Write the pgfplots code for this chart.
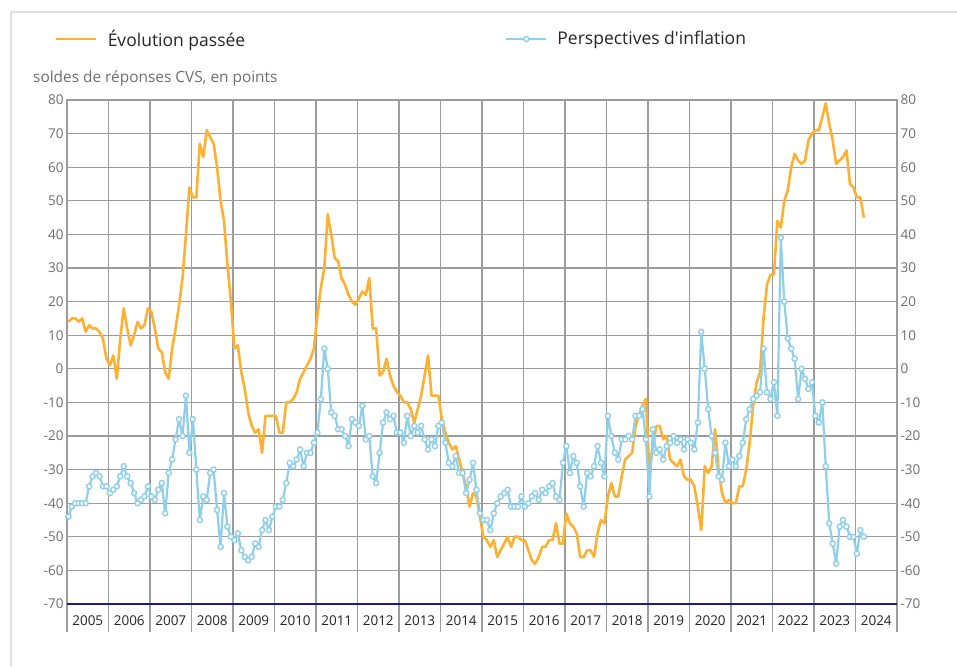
\documentclass[border=0pt]{standalone}
\usepackage{pgfplots}
\pgfplotsset{compat=1.18}
\usepackage{fontspec}
\setmainfont{Open Sans}
\newfontfamily\plainfont{Open Sans}
\definecolor{orangeL}{HTML}{FDB132}
\definecolor{blueL}{HTML}{8FCFEA}
\definecolor{gridG}{HTML}{9C9C9C}
\definecolor{navyL}{HTML}{1A1A80}
\definecolor{tickG}{HTML}{6E6E6E}
\begin{document}
\begin{tikzpicture}[x=1pt,y=1pt]
\useasboundingbox (0,0) rectangle (957,666);
\fill[white] (0,0) rectangle (957,666);
\draw[black!12, line width=2pt] (11,0) -- (11,654) -- (957,654);
\node[anchor=base west, font=\fontsize{15.4}{17}\selectfont, text=tickG, inner sep=0pt] at (33,583) {soldes de réponses CVS, en points};
\begin{axis}[
  at={(67pt,62pt)}, anchor=south west,
  width=830pt, height=504pt, scale only axis,
  xmin=2005, xmax=2025, ymin=-70, ymax=80,
  clip=false,
  /pgf/number format/assume math mode=true,
  xtick={2005.5,2006.5,2007.5,2008.5,2009.5,2010.5,2011.5,2012.5,2013.5,2014.5,2015.5,2016.5,2017.5,2018.5,2019.5,2020.5,2021.5,2022.5,2023.5,2024.5},
  xticklabels={2005,2006,2007,2008,2009,2010,2011,2012,2013,2014,2015,2016,2017,2018,2019,2020,2021,2022,2023,2024},
  minor xtick={2005,2006,...,2025},
  xminorgrids, ymajorgrids,
  ytick={-70,-60,...,80},
  major tick length=0pt, minor tick length=0pt,
  grid style={gridG, line width=1.3pt},
  minor grid style={gridG, line width=1.3pt},
  axis line style={gridG, line width=1.3pt},
  tick label style={font=\fontsize{13.5}{15}\selectfont},
  yticklabel style={text=tickG},
  xticklabel style={text=black!85, yshift=-8pt},
  legend columns=2,
  legend style={at={(-0.0145,1.121)}, anchor=west, draw=none, fill=none, inner sep=0pt,
     font=\plainfont\fontsize{17.5}{20}\selectfont, text=black!85,
     /tikz/every odd column/.append style={column sep=8pt},
     /tikz/every even column/.append style={column sep=258pt}},
  legend image code/.code={\draw[mark repeat=2,mark phase=2,#1] plot coordinates {(0pt,0pt) (20pt,0pt) (40pt,0pt)};},
]
\addplot[orangeL, line width=2.6pt, line join=round] table[row sep=\\, header=false, x expr=2005+(\coordindex+0.4)/12, y index=0] {
14\\15\\15\\14\\15\\11\\13\\12\\12\\11\\9\\3\\
1\\4\\-3\\9\\18\\12\\7\\10\\14\\12\\13\\18\\
17\\12\\6\\5\\-1\\-3\\6\\12\\19\\27\\40\\54\\
51\\51\\67\\63\\71\\69\\67\\60\\50\\44\\31\\20\\
6\\7\\-1\\-6\\-13\\-17\\-19\\-18\\-25\\-14\\-14\\-14\\
-14\\-19\\-19\\-10\\-10\\-9\\-7\\-3\\-1\\1\\3\\6\\
16\\24\\30\\46\\40\\33\\32\\27\\25\\22\\20\\19\\
21\\23\\22\\27\\12\\12\\-2\\-1\\3\\-2\\-5\\-7\\
-8\\-10\\-10\\-12\\-16\\-12\\-8\\-2\\4\\-8\\-8\\-8\\
-15\\-19\\-22\\-24\\-23\\-27\\-31\\-35\\-41\\-37\\-38\\-44\\
-50\\-51\\-53\\-51\\-56\\-54\\-52\\-50\\-53\\-50\\-50\\-51\\
-51\\-54\\-57\\-58\\-56\\-53\\-53\\-51\\-51\\-46\\-52\\-52\\
-43\\-46\\-47\\-49\\-56\\-56\\-54\\-54\\-56\\-49\\-45\\-46\\
-38\\-34\\-38\\-38\\-32\\-27\\-26\\-25\\-17\\-14\\-11\\-9\\
-31\\-23\\-17\\-17\\-21\\-20\\-27\\-28\\-29\\-27\\-32\\-33\\
-33\\-35\\-41\\-48\\-29\\-31\\-29\\-18\\-30\\-37\\-40\\-39\\
-40\\-40\\-35\\-35\\-30\\-22\\-11\\-4\\-1\\15\\25\\28\\
28\\44\\42\\50\\53\\60\\64\\62\\61\\62\\68\\70\\
71\\71\\75\\79\\73\\68\\61\\62\\63\\65\\55\\54\\
51\\51\\45\\
};
\addlegendentry{Évolution passée}
\addplot[blueL, line width=2.2pt, line join=round, mark=*, mark size=2.6pt, mark options={fill=white, draw=blueL, line width=1.4pt}] table[row sep=\\, header=false, x expr=2005+(\coordindex+0.4)/12, y index=0] {
-44\\-41\\-40\\-40\\-40\\-40\\-35\\-32\\-31\\-32\\-35\\-35\\
-37\\-36\\-35\\-32\\-29\\-32\\-34\\-37\\-40\\-39\\-38\\-35\\
-38\\-39\\-36\\-34\\-43\\-31\\-27\\-21\\-15\\-20\\-8\\-25\\
-15\\-30\\-45\\-38\\-39\\-31\\-30\\-42\\-53\\-37\\-47\\-50\\
-51\\-49\\-54\\-56\\-57\\-56\\-52\\-53\\-48\\-45\\-48\\-44\\
-41\\-41\\-39\\-34\\-28\\-29\\-27\\-24\\-29\\-25\\-25\\-22\\
-19\\-9\\6\\0\\-13\\-14\\-18\\-18\\-20\\-23\\-15\\-16\\
-17\\-11\\-21\\-20\\-32\\-34\\-25\\-16\\-13\\-15\\-14\\-19\\
-19\\-22\\-14\\-20\\-17\\-19\\-17\\-21\\-24\\-21\\-23\\-17\\
-16\\-22\\-28\\-29\\-26\\-31\\-31\\-37\\-33\\-28\\-36\\-43\\
-45\\-45\\-48\\-43\\-40\\-38\\-37\\-36\\-41\\-41\\-41\\-38\\
-41\\-40\\-38\\-37\\-39\\-36\\-37\\-35\\-34\\-38\\-39\\-28\\
-23\\-31\\-26\\-28\\-35\\-41\\-31\\-32\\-29\\-23\\-28\\-32\\
-14\\-20\\-25\\-27\\-21\\-21\\-20\\-21\\-14\\-14\\-12\\-21\\
-38\\-18\\-25\\-24\\-27\\-23\\-22\\-20\\-22\\-21\\-24\\-21\\
-22\\-24\\-16\\11\\0\\-12\\-20\\-25\\-32\\-33\\-22\\-29\\
-27\\-29\\-26\\-22\\-15\\-12\\-9\\-8\\-7\\6\\-7\\-9\\
-4\\-14\\39\\20\\9\\6\\3\\-9\\0\\-3\\-6\\-4\\
-14\\-16\\-10\\-29\\-46\\-52\\-58\\-47\\-45\\-47\\-50\\-50\\
-55\\-48\\-50\\
};
\addlegendentry{Perspectives d'inflation}
\pgfplotsinvokeforeach{2005,2006,...,2025}{
  \draw[gridG, line width=1.3pt] (axis cs:#1,-70) -- ([yshift=-28pt]axis cs:#1,-70);
}
\draw[navyL, line width=1.6pt] (axis cs:2005,-70) -- (axis cs:2025,-70);
\end{axis}
\begin{axis}[
  at={(67pt,62pt)}, anchor=south west,
  width=830pt, height=504pt, scale only axis,
  xmin=2005, xmax=2025, ymin=-70, ymax=80,
  axis y line*=right, hide x axis,
  axis line style={draw=none},
  /pgf/number format/assume math mode=true,
  ytick={-70,-60,...,80},
  major tick length=0pt,
  tick label style={font=\fontsize{13.5}{15}\selectfont},
  yticklabel style={text=tickG},
]
\end{axis}
\end{tikzpicture}
\end{document}
